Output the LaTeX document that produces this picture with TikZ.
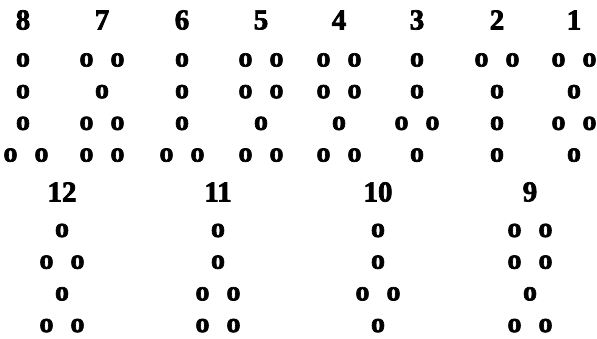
\documentclass[tikz,border=0pt]{standalone}
\usepackage{fontspec}
\newfontfamily\heavyfont{Liberation Serif}[BoldFeatures={FakeBold=2.5}]
\usetikzlibrary{positioning}

\begin{document}
\begin{tikzpicture}[
    x=1pt, y=1pt,
    node distance=31.7pt, on grid,
    num/.style={inner sep=0pt, font=\fontsize{29}{29}\heavyfont\bfseries},
    spot/.style={inner sep=0pt, font=\fontsize{28}{28}\heavyfont\bfseries}
]
\useasboundingbox (0,0) rectangle (597,-338);
\node[num] (n8) at (23,-20) {8};
\node[spot, below=40pt of n8] (f8a) {o};
\node[spot, below=of f8a] (f8b) {o};
\node[spot, below=of f8b] (f8c) {o};
\node[spot, below=of f8c, xshift=3pt] (f8d) {o\hspace{17pt}o};
\node[num] (n7) at (102,-20) {7};
\node[spot, below=40pt of n7] (f7a) {o\hspace{17pt}o};
\node[spot, below=of f7a] (f7b) {o};
\node[spot, below=of f7b] (f7c) {o\hspace{17pt}o};
\node[spot, below=of f7c] (f7d) {o\hspace{17pt}o};
\node[num] (n6) at (182,-20) {6};
\node[spot, below=40pt of n6] (f6a) {o};
\node[spot, below=of f6a] (f6b) {o};
\node[spot, below=of f6b] (f6c) {o};
\node[spot, below=of f6c] (f6d) {o\hspace{17pt}o};
\node[num] (n5) at (261,-20) {5};
\node[spot, below=40pt of n5] (f5a) {o\hspace{17pt}o};
\node[spot, below=of f5a] (f5b) {o\hspace{17pt}o};
\node[spot, below=of f5b] (f5c) {o};
\node[spot, below=of f5c] (f5d) {o\hspace{17pt}o};
\node[num] (n4) at (339,-20) {4};
\node[spot, below=40pt of n4] (f4a) {o\hspace{17pt}o};
\node[spot, below=of f4a] (f4b) {o\hspace{17pt}o};
\node[spot, below=of f4b] (f4c) {o};
\node[spot, below=of f4c] (f4d) {o\hspace{17pt}o};
\node[num] (n3) at (417,-20) {3};
\node[spot, below=40pt of n3] (f3a) {o};
\node[spot, below=of f3a] (f3b) {o};
\node[spot, below=of f3b] (f3c) {o\hspace{17pt}o};
\node[spot, below=of f3c] (f3d) {o};
\node[num] (n2) at (497,-20) {2};
\node[spot, below=40pt of n2] (f2a) {o\hspace{17pt}o};
\node[spot, below=of f2a] (f2b) {o};
\node[spot, below=of f2b] (f2c) {o};
\node[spot, below=of f2c] (f2d) {o};
\node[num] (n1) at (574,-20) {1};
\node[spot, below=40pt of n1] (f1a) {o\hspace{17pt}o};
\node[spot, below=of f1a] (f1b) {o};
\node[spot, below=of f1b] (f1c) {o\hspace{17pt}o};
\node[spot, below=of f1c] (f1d) {o};
\node[num] (n12) at (62,-192) {12};
\node[spot, below=38.5pt of n12] (f12a) {o};
\node[spot, below=of f12a] (f12b) {o\hspace{17pt}o};
\node[spot, below=of f12b] (f12c) {o};
\node[spot, below=of f12c] (f12d) {o\hspace{17pt}o};
\node[num] (n11) at (218,-192) {11};
\node[spot, below=38.5pt of n11] (f11a) {o};
\node[spot, below=of f11a] (f11b) {o};
\node[spot, below=of f11b] (f11c) {o\hspace{17pt}o};
\node[spot, below=of f11c] (f11d) {o\hspace{17pt}o};
\node[num] (n10) at (378,-192) {10};
\node[spot, below=38.5pt of n10] (f10a) {o};
\node[spot, below=of f10a] (f10b) {o};
\node[spot, below=of f10b] (f10c) {o\hspace{17pt}o};
\node[spot, below=of f10c] (f10d) {o};
\node[num] (n9) at (530,-192) {9};
\node[spot, below=38.5pt of n9] (f9a) {o\hspace{17pt}o};
\node[spot, below=of f9a] (f9b) {o\hspace{17pt}o};
\node[spot, below=of f9b] (f9c) {o};
\node[spot, below=of f9c] (f9d) {o\hspace{17pt}o};
\end{tikzpicture}
\end{document}
